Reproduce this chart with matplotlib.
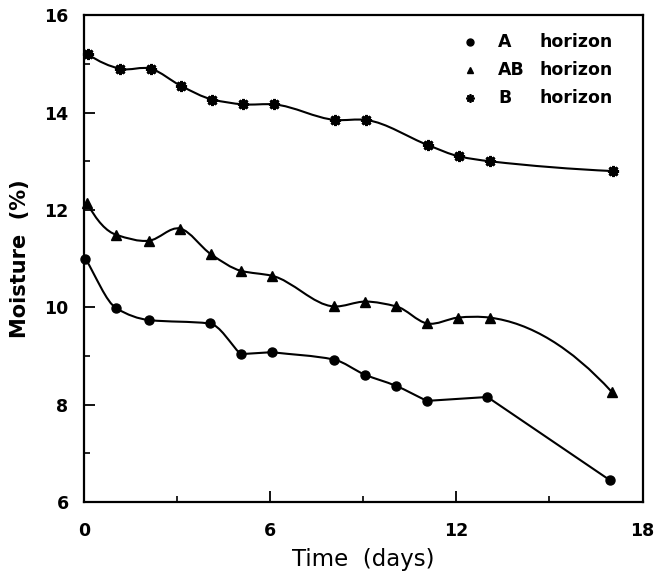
import numpy as np
import matplotlib
matplotlib.use("Agg")
import matplotlib.pyplot as plt
from matplotlib.path import Path
from matplotlib.patches import PathPatch
from matplotlib.ticker import MultipleLocator

# ---- data ----
a_days = [0.05, 1.05, 2.1, 4.05, 5.05, 6.05, 8.05, 9.05, 10.05, 11.05, 13.0, 16.95]
a_moist = [11.0, 9.98, 9.74, 9.67, 9.04, 9.08, 8.93, 8.62, 8.39, 8.08, 8.16, 6.45]

ab_days = [0.1, 1.05, 2.1, 3.1, 4.1, 5.07, 6.06, 8.05, 9.07, 10.07, 11.06, 12.05, 13.08, 17.0]
ab_moist = [12.15, 11.49, 11.37, 11.62, 11.09, 10.75, 10.65, 10.02, 10.12, 10.02, 9.67, 9.79, 9.79, 8.27]

b_days = [0.13, 1.18, 2.17, 3.13, 4.14, 5.14, 6.13, 8.1, 9.1, 11.1, 12.1, 13.1, 17.05]
b_moist = [15.2, 14.9, 14.9, 14.55, 14.27, 14.17, 14.17, 13.85, 13.85, 13.33, 13.1, 13.0, 12.8]

legend_keys = ["A", "AB", "B"]
x_ticks = [0, 6, 12, 18]
y_ticks = [6, 8, 10, 12, 14, 16]


def smooth_path(x, y, curved_ends=True, corners=False):
    """Shape-preserving cubic Hermite curve through the points, as Bezier segments."""
    x = np.asarray(x, float)
    y = np.asarray(y, float)
    n = len(x)
    h = np.diff(x)
    s = np.diff(y) / h
    ml = np.empty(n)  # tangent arriving at point
    mr = np.empty(n)  # tangent leaving point
    for i in range(1, n - 1):
        s0, s1 = s[i - 1], s[i]
        if s0 * s1 > 0:
            w1 = 2 * h[i] + h[i - 1]
            w2 = h[i] + 2 * h[i - 1]
            ml[i] = mr[i] = (w1 + w2) / (w1 / s0 + w2 / s1)
        elif corners:
            ml[i], mr[i] = s0, s1
        else:
            ml[i] = mr[i] = (h[i] * s0 + h[i - 1] * s1) / (h[i - 1] + h[i])
    if curved_ends:
        mr[0] = 2 * s[0] - ml[1]
        ml[-1] = 2 * s[-1] - mr[-2]
    else:
        mr[0] = s[0]
        ml[-1] = s[-1]
    verts = [(x[0], y[0])]
    codes = [Path.MOVETO]
    for i in range(n - 1):
        d = h[i] / 3.0
        verts += [(x[i] + d, y[i] + mr[i] * d),
                  (x[i + 1] - d, y[i + 1] - ml[i + 1] * d),
                  (x[i + 1], y[i + 1])]
        codes += [Path.CURVE4] * 3
    return Path(verts, codes)


fig = plt.figure(figsize=(6.55, 5.88), dpi=100)
ax = fig.add_axes([0.128, 0.146, 0.853, 0.828])

series = [
    (a_days, a_moist, False, True, dict(marker="o", markersize=6.5)),
    (ab_days, ab_moist, True, False, dict(marker="^", markersize=6.5)),
    (b_days, b_moist, True, False, dict(marker=(8, 2, 0), markersize=8, markeredgewidth=2.0)),
]
for xs, ys, curved, corners, mk in series:
    ax.add_patch(PathPatch(smooth_path(xs, ys, curved, corners), facecolor="none",
                           edgecolor="black", lw=1.5, clip_on=False, zorder=2))
    ax.plot(xs, ys, linestyle="none", color="black", clip_on=False, zorder=3, **mk)

ax.set_xlim(0, 18)
ax.set_ylim(6, 16)
ax.set_xticks(x_ticks)
ax.set_yticks(y_ticks)
ax.xaxis.set_minor_locator(MultipleLocator(3))
ax.yaxis.set_minor_locator(MultipleLocator(1))
ax.tick_params(which="major", direction="in", length=8, width=1.3, pad=11,
               labelsize=12.5)
ax.tick_params(axis="x", which="major", pad=14)
ax.tick_params(which="minor", direction="in", length=4, width=1.2)
for lab in ax.get_xticklabels() + ax.get_yticklabels():
    lab.set_fontweight("bold")
for s in ax.spines.values():
    s.set_linewidth(1.6)

ax.set_xlabel("Time  (days)", fontsize=16.5, labelpad=6)
ax.set_ylabel("Moisture  (%)", fontsize=15, fontweight="bold", labelpad=10)

# legend drawn manually to keep "horizon" aligned
rows_y = [0.945, 0.887, 0.830]
mk_styles = [dict(marker="o", markersize=5), dict(marker="^", markersize=5),
             dict(marker=(8, 2, 0), markersize=6, markeredgewidth=1.3)]
for key, yy, mk in zip(legend_keys, rows_y, mk_styles):
    ax.plot([0.692], [yy], transform=ax.transAxes, color="black",
            linestyle="none", **mk)
    ax.text(0.742, yy, key, transform=ax.transAxes, fontsize=12.5,
            fontweight="bold", va="center", ha="left")
    ax.text(0.815, yy, "horizon", transform=ax.transAxes, fontsize=12.5,
            fontweight="bold", va="center", ha="left")

fig.savefig("out.png", dpi=100)
